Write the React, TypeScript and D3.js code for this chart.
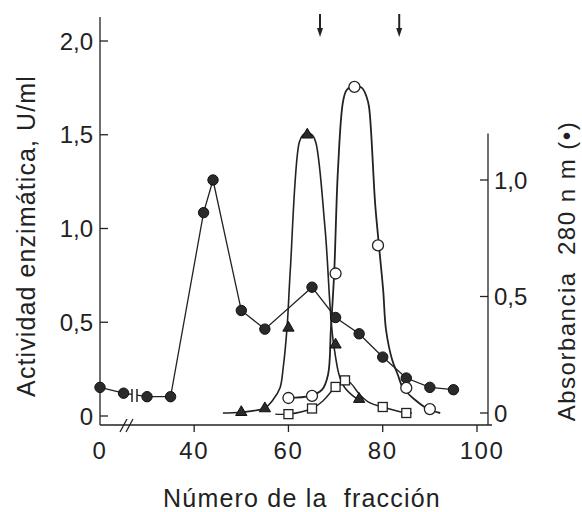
import React from 'react';
import * as d3 from 'd3';

// fraction number -> value
const absFrac = [0, 5, 30, 35, 42, 44, 50, 55, 65, 70, 75, 80, 85, 90, 95];
const absVal = [0.11, 0.085, 0.07, 0.07, 0.86, 1.0, 0.44, 0.36, 0.54, 0.41, 0.34, 0.24, 0.15, 0.11, 0.1];

const triFrac = [50, 55, 60, 64, 70, 75];
const triVal = [0.02, 0.04, 0.47, 1.5, 0.38, 0.09];

const openFrac = [60, 65, 70, 74, 79, 85, 90];
const openVal = [0.096, 0.107, 0.76, 1.755, 0.91, 0.15, 0.037];

const sqFrac = [60, 65, 70, 72, 80, 85];
const sqVal = [0.01, 0.04, 0.155, 0.19, 0.048, 0.016];

// hand drawn curves through the markers
const triCurve = [[46.1, 0.016], [50, 0.02], [55, 0.043], [56.7, 0.085], [58.2, 0.149], [58.9, 0.26], [59.7, 0.47],
  [60.4, 0.78], [62.3, 1.46], [63.1, 1.5], [64, 1.51], [65, 1.5], [65.8, 1.46], [67.8, 0.99], [69.6, 0.38],
  [71.6, 0.165], [74.6, 0.09]];
const openCurve = [[59.9, 0.096], [64.6, 0.107], [67.1, 0.139], [68.4, 0.22], [69.0, 0.46], [69.7, 0.76],
  [70.5, 1.31], [71.6, 1.68], [72.4, 1.74], [74, 1.76], [75.6, 1.75], [76.6, 1.7], [77.1, 1.648], [78.4, 1.13],
  [79.2, 0.91], [80.1, 0.67], [80.7, 0.46], [82, 0.3], [83.2, 0.22], [84.3, 0.15], [86.9, 0.085], [89.6, 0.037],
  [92.2, 0.016]];
const sqCurve = [[57.2, 0.01], [60, 0.01], [65, 0.04], [67.5, 0.085], [70, 0.155], [72.4, 0.19], [75.2, 0.112],
  [77.3, 0.07], [80, 0.048], [85, 0.016], [86.2, 0.016]];

const xTicks = [0, 40, 60, 80, 100];
const leftTicks = [0, 0.5, 1, 1.5, 2];
const rightTicks = [0, 0.5, 1];
const arrowFrac = [66.7, 83.5];

const fmt = (v: number) => (v === 0 ? '0' : v.toFixed(1).replace('.', ','));
const font = '"Liberation Sans", Arial, sans-serif';
const ink = '#222';

export default function App() {
  // broken axis: 6..29 squeezed
  const x = d3.scaleLinear().domain([0, 6, 29, 100]).range([100, 128.3, 142.3, 477]);
  const yL = d3.scaleLinear().domain([0, 2]).range([416, 41]);
  const yR = d3.scaleLinear().domain([0, 1]).range([413, 180]);
  const bottom = 425;
  const rightX = 488;

  const smooth = d3.line<number[]>().x(d => x(d[0])).y(d => yL(d[1])).curve(d3.curveCatmullRom.alpha(0.5));
  const absLine = d3.line<number>().x((d, i) => x(absFrac[i])).y(d => yR(d));
  const tri = d3.symbol(d3.symbolTriangle, 55)();

  return (
    <svg width={582} height={512} style={{ position: 'absolute', left: 0, top: 0, background: '#fff' }}
         fontFamily={font}>
      {/* left axis */}
      <line x1={100} x2={100} y1={17} y2={bottom} stroke={ink} strokeWidth={1.3} />
      {leftTicks.map(t => (
        <g key={'l' + t}>
          <line x1={100} x2={108} y1={yL(t)} y2={yL(t)} stroke={ink} strokeWidth={1.3} />
          <text x={93} y={yL(t)} dy="0.36em" textAnchor="end" fontSize={24} fill={ink}>{fmt(t)}</text>
        </g>
      ))}
      {/* right axis */}
      <line x1={rightX} x2={rightX} y1={yR(1.2)} y2={bottom} stroke={ink} strokeWidth={1.3} />
      {rightTicks.map(t => (
        <g key={'r' + t}>
          <line x1={rightX - 8} x2={rightX} y1={yR(t)} y2={yR(t)} stroke={ink} strokeWidth={1.3} />
          <text x={rightX + 6} y={yR(t)} dy="0.36em" fontSize={24} fill={ink}>{fmt(t)}</text>
        </g>
      ))}
      {/* bottom axis */}
      <line x1={100} x2={rightX + 4} y1={bottom} y2={bottom} stroke={ink} strokeWidth={1.3} />
      {xTicks.map(t => (
        <g key={'x' + t}>
          {t > 0 && <line x1={x(t)} x2={x(t)} y1={bottom} y2={bottom + 7} stroke={ink} strokeWidth={1.3} />}
          <text x={x(t) + (t === 100 ? 5 : 0)} y={459} textAnchor="middle" fontSize={24} letterSpacing={1.5} fill={ink}>{t}</text>
        </g>
      ))}
      {/* axis break */}
      <line x1={120} x2={127} y1={432} y2={419} stroke={ink} strokeWidth={1.3} />
      <line x1={126} x2={133} y1={432} y2={419} stroke={ink} strokeWidth={1.3} />

      {/* labels */}
      <text x={302} y={507} textAnchor="middle" fontSize={25} letterSpacing={1.2} fill={ink} xmlSpace="preserve">Número de la  fracción</text>
      <text transform="translate(35,236) rotate(-90)" textAnchor="middle" fontSize={25} letterSpacing={1.1} fill={ink}>Actividad enzimática, U/ml</text>
      <text transform="translate(575,271) rotate(-90)" textAnchor="middle" fontSize={24} letterSpacing={1.5} fill={ink} xmlSpace="preserve">Absorbancia  280 n m (•)</text>

      {/* arrows */}
      {arrowFrac.map(f => (
        <g key={'a' + f}>
          <line x1={x(f)} x2={x(f)} y1={14} y2={32} stroke={ink} strokeWidth={2} />
          <path d={`M${x(f) - 3},${28} L${x(f) + 3},${28} L${x(f)},${37} Z`} fill={ink} />
        </g>
      ))}

      {/* absorbance */}
      <path d={absLine(absVal) || ''} fill="none" stroke={ink} strokeWidth={1.3} />
      <rect x={132} y={386} width={5} height={18} fill="#fff" />
      <line x1={132} x2={132} y1={389} y2={402} stroke={ink} strokeWidth={1.5} />
      <line x1={137} x2={137} y1={389} y2={402} stroke={ink} strokeWidth={1.5} />

      {/* enzyme curves */}
      <path d={smooth(sqCurve) || ''} fill="none" stroke={ink} strokeWidth={1.4} />
      <path d={smooth(triCurve) || ''} fill="none" stroke={ink} strokeWidth={1.6} />
      <path d={smooth(openCurve) || ''} fill="none" stroke={ink} strokeWidth={1.8} />

      {absVal.map((v, i) => (
        <circle key={'c' + i} cx={x(absFrac[i])} cy={yR(v)} r={5.2} fill="#2a2a2a" stroke="#111" strokeWidth={1} />
      ))}
      {triVal.map((v, i) => (
        <path key={'t' + i} d={tri || ''} transform={`translate(${x(triFrac[i])},${yL(v)})`} fill="#2a2a2a" stroke="#111" strokeWidth={1} />
      ))}
      {openVal.map((v, i) => (
        <circle key={'o' + i} cx={x(openFrac[i])} cy={yL(v)} r={5.5} fill="#fff" stroke={ink} strokeWidth={1.3} />
      ))}
      {sqVal.map((v, i) => (
        <rect key={'s' + i} x={x(sqFrac[i]) - 4.5} y={yL(v) - 4.5} width={9} height={9} fill="#fff" stroke={ink} strokeWidth={1.3} />
      ))}
    </svg>
  );
}
